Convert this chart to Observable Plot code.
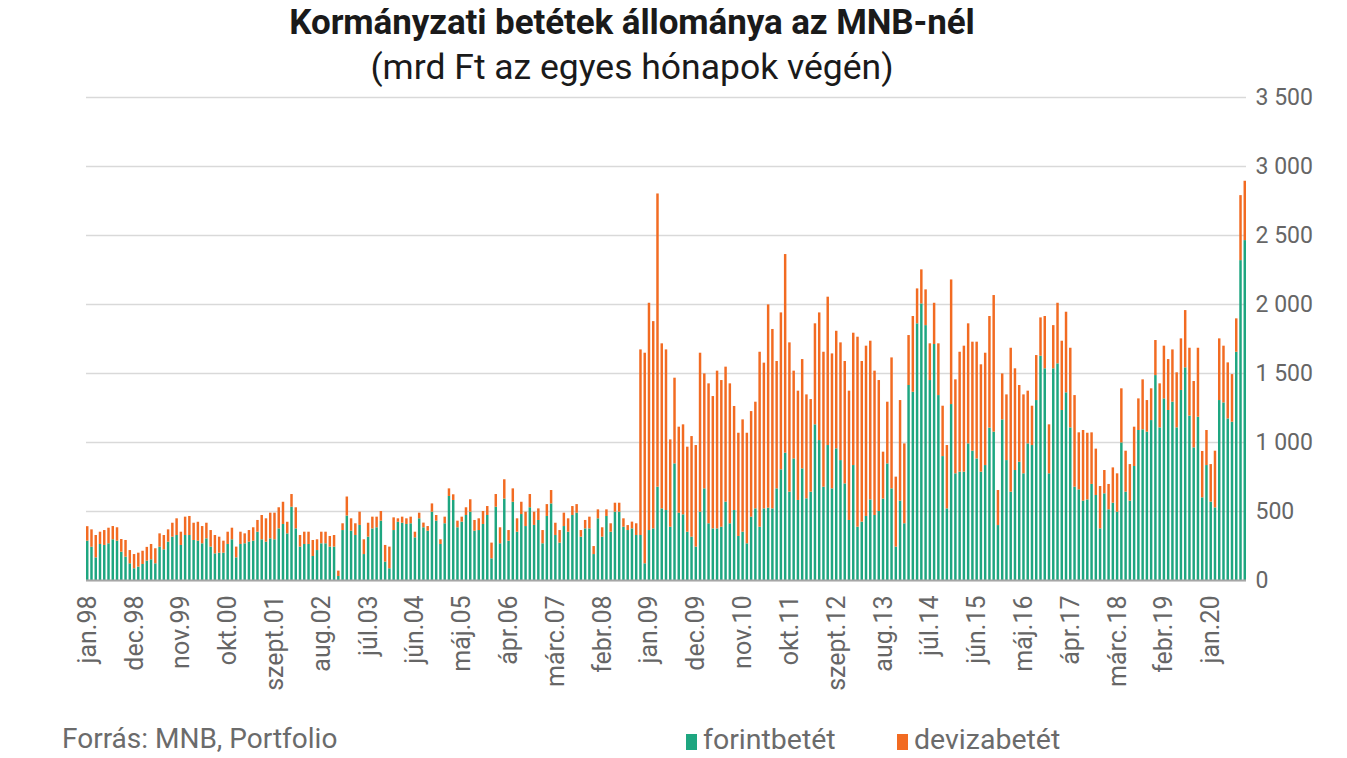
<!DOCTYPE html>
<html>
<head>
<meta charset="utf-8">
<script src="https://cdn.jsdelivr.net/npm/d3@7"></script>
<script src="https://cdn.jsdelivr.net/npm/@observablehq/plot@0.6"></script>
<style>
  html, body { margin: 0; padding: 0; background: #fff; }
  #wrap { position: relative; width: 1347px; height: 758px; overflow: hidden; font-family: Roboto, "Noto Sans", sans-serif; }
  .title { position: absolute; left: 0; width: 1264px; text-align: center; color: #1a1a1a; line-height: 1.17; white-space: nowrap; }
  #t1 { top: 3px; font-size: 35px; font-weight: 700; letter-spacing: -0.1px; }
  #t2 { top: 47px; font-size: 35.5px; font-weight: 400; }
  #chart { position: absolute; left: 0; top: 85px; }
  #src { position: absolute; left: 62px; top: 723px; font-size: 28px; color: #6b6b6b; line-height: 1.17; }
  .leg { position: absolute; top: 723px; font-size: 28.5px; color: #6b6b6b; line-height: 1.17; }
  .sw { display: inline-block; width: 11px; height: 16px; margin-right: 6px; vertical-align: -1px; }
</style>
</head>
<body>
<div id="wrap">
  <div class="title" id="t1">Kormányzati betétek állománya az MNB-nél</div>
  <div class="title" id="t2">(mrd Ft az egyes hónapok végén)</div>
  <div id="chart"></div>
  <div id="src">Forrás: MNB, Portfolio</div>
  <div class="leg" id="leg1" style="left:686px"><span class="sw" id="sw1"></span>forintbetét</div>
  <div class="leg" id="leg2" style="left:897px"><span class="sw" id="sw2"></span>devizabetét</div>
</div>
<script>
// Monthly values, Jan 1998 – Sep 2020 (bn HUF, end of month)
const forint = [
285,241,164,261,254,266,295,285,205,169,121,85,97,116,140,150,121,241,222,278,314,326,254,326,
326,290,285,266,302,242,193,198,198,261,295,164,261,266,278,285,350,295,278,302,295,374,406,338,
531,374,242,261,261,174,217,266,266,242,242,29,362,467,357,326,399,188,314,374,382,430,133,85,
362,422,415,406,411,309,447,382,357,495,430,261,411,609,580,382,423,471,495,357,362,406,471,157,
531,266,590,285,567,350,478,391,527,399,435,266,464,555,326,271,391,350,471,488,314,374,374,188,
447,314,464,350,495,495,386,362,374,326,326,121,362,374,676,519,507,386,845,488,476,350,314,242,
495,664,411,374,374,386,568,411,507,319,350,266,459,519,386,519,524,519,664,802,923,640,881,580,
809,592,640,1128,1014,676,978,664,954,869,700,435,833,386,423,464,584,471,500,590,845,664,242,575,
411,1413,1364,1860,2004,1847,1449,1710,1340,898,519,1275,773,785,785,990,937,881,785,833,1104,1075,398,1164,
869,640,797,857,773,990,978,1304,1625,1534,773,1534,1570,1232,1360,1106,676,657,575,584,696,616,374,628,
512,560,495,997,640,575,826,1087,1092,1075,1159,1485,1106,1316,1232,1292,1106,1377,1541,1191,961,1183,599,833,
568,526,1304,1287,1171,1147,1654,2318,2463
];
const deviza = [
105,126,162,89,108,113,96,97,92,121,96,103,101,96,100,111,109,97,104,89,101,121,96,133,
138,125,137,125,113,120,133,116,87,89,84,78,89,72,84,97,85,176,169,186,193,153,161,84,
92,153,84,89,89,116,78,84,84,77,84,39,49,138,90,85,96,107,101,85,77,70,121,157,
92,25,44,41,48,41,41,34,34,60,41,34,48,55,41,48,36,56,90,78,85,94,65,114,
92,116,140,77,97,97,89,104,96,96,84,96,86,97,89,91,97,97,65,62,48,61,85,58,
65,68,48,61,65,65,61,36,49,85,1345,1526,1647,1502,2125,1196,1164,633,621,623,652,616,729,736,
1152,833,1014,959,1143,1063,978,1014,754,748,814,801,765,773,1268,1056,1473,1300,923,1137,1439,1082,636,792,
792,753,671,732,925,978,1075,978,852,853,887,937,959,1377,1164,1234,1150,1046,949,340,447,949,507,729,
579,362,549,253,247,259,266,299,375,365,459,903,681,869,913,870,790,846,778,814,809,990,254,333,
476,1043,737,556,572,382,285,326,278,379,355,313,439,502,584,577,664,413,512,483,374,336,307,169,
184,256,278,392,297,265,285,229,362,229,230,254,319,382,369,379,399,374,415,492,481,500,336,254,
272,411,447,411,406,345,242,471,430
];
const seriesNames = ["forintbetét", "devizabetét"];
const seriesColors = ["#1ea680", "#f26b22"];
const tickLabels = ["jan.98","dec.98","nov.99","okt.00","szept.01","aug.02","júl.03","jún.04","máj.05",
  "ápr.06","márc.07","febr.08","jan.09","dec.09","nov.10","okt.11","szept.12","aug.13","júl.14",
  "jún.15","máj.16","ápr.17","márc.18","febr.19","jan.20"];
const yTicks = [0, 500, 1000, 1500, 2000, 2500, 3000, 3500];

const n = forint.length;
const rows = [];
for (let i = 0; i < n; i++) {
  rows.push({i, type: seriesNames[0], v: forint[i]});
  rows.push({i, type: seriesNames[1], v: deviza[i]});
}
const tickIdx = tickLabels.map((_, k) => k * 11);
const fmt = d => d3.format(",")(d).replace(/,/g, "\u00a0");

const chart = Plot.plot({
  width: 1347,
  height: 625,
  marginLeft: 86,
  marginRight: 101,
  marginTop: 12,
  marginBottom: 130,
  style: {fontFamily: "Roboto, sans-serif", fontSize: "23px", color: "#666666", background: "transparent", overflow: "visible"},
  x: {type: "band", domain: d3.range(n), padding: 0.42, paddingOuter: 0, axis: null},
  y: {domain: [0, 3500], axis: null},
  color: {domain: seriesNames, range: seriesColors},
  marks: [
    Plot.gridY(yTicks, {stroke: "#d9d9d9", strokeOpacity: 1, strokeWidth: 1.5}),
    Plot.barY(rows, {x: "i", y: "v", fill: "type"}),
    Plot.ruleY([0], {stroke: "#a6a6a6", strokeWidth: 2}),
    Plot.axisY(yTicks, {anchor: "right", tickSize: 0, tickPadding: 9, tickFormat: fmt, label: null, fontSize: 23}),
    Plot.axisX(tickIdx, {tickRotate: -90, tickSize: 0, tickPadding: 15, tickFormat: (d) => tickLabels[d / 11], label: null, fontSize: 25})
  ]
});
document.getElementById("chart").appendChild(chart);
document.getElementById("sw1").style.background = seriesColors[0];
document.getElementById("sw2").style.background = seriesColors[1];
</script>
</body>
</html>
